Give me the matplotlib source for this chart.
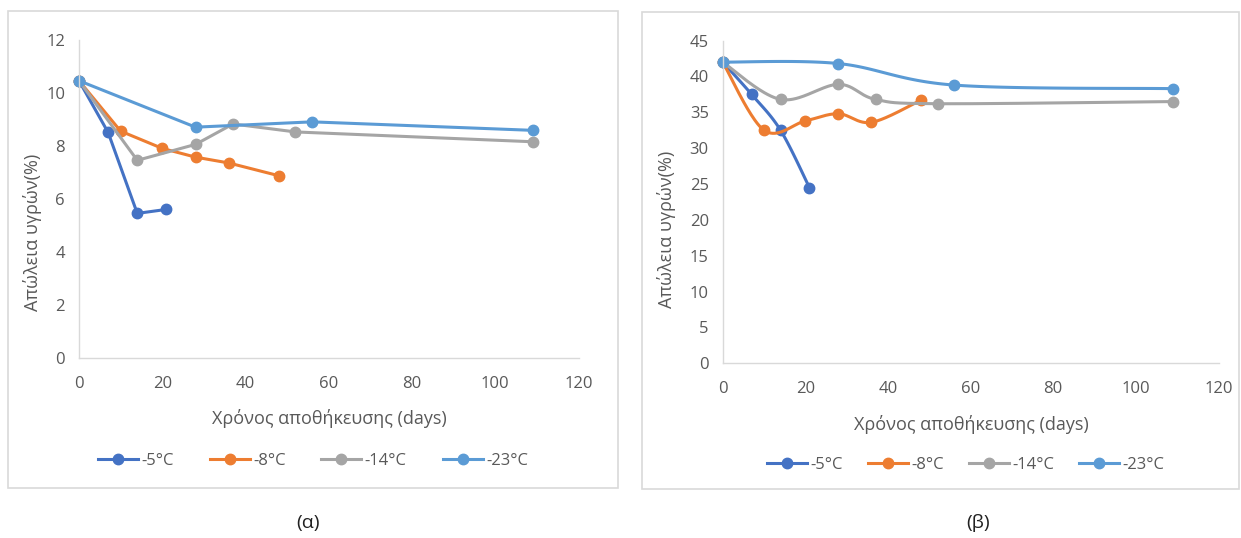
import numpy as np
import matplotlib
matplotlib.use("Agg")
import matplotlib.pyplot as plt
from matplotlib.patches import Rectangle
from matplotlib.lines import Line2D

plt.rcParams['font.family'] = ['Open Sans', 'DejaVu Sans']

# ---- data -------------------------------------------------------------
labels = ['-5°C', '-8°C', '-14°C', '-23°C']
colors = ['#4472C4', '#ED7D31', '#A5A5A5', '#5B9BD5']

# (α) liquid loss, straight lines
a_days_m5 = [0, 7, 14, 21]
a_val_m5 = [10.45, 8.5, 5.45, 5.6]
a_days_m8 = [0, 10, 20, 28, 36, 48]
a_val_m8 = [10.45, 8.55, 7.9, 7.57, 7.35, 6.87]
a_days_m14 = [0, 14, 28, 37, 52, 109]
a_val_m14 = [10.45, 7.45, 8.05, 8.82, 8.52, 8.15]
a_days_m23 = [0, 28, 56, 109]
a_val_m23 = [10.45, 8.7, 8.9, 8.58]

# (β) liquid loss, smoothed lines
b_days_m5 = [0, 7, 14, 21]
b_val_m5 = [42.0, 37.5, 32.5, 24.5]
b_days_m8 = [0, 10, 20, 28, 36, 48]
b_val_m8 = [42.0, 32.5, 33.8, 34.8, 33.6, 36.7]
b_days_m14 = [0, 14, 28, 37, 52, 109]
b_val_m14 = [42.0, 36.8, 38.9, 36.8, 36.2, 36.5]
b_days_m23 = [0, 28, 56, 109]
b_val_m23 = [42.0, 41.8, 38.8, 38.3]

x_ticks = [0, 20, 40, 60, 80, 100, 120]
a_y_ticks = [0, 2, 4, 6, 8, 10, 12]
b_y_ticks = [0, 5, 10, 15, 20, 25, 30, 35, 40, 45]

xlabel = 'Χρόνος αποθήκευσης (days)'
ylabel = 'Απώλεια υγρών(%)'

TXT = '#595959'
AXC = '#D9D9D9'


def smooth(xs, ys, n=40):
    """Cardinal (Catmull-Rom) Bezier smoothing through the points."""
    p = np.column_stack([xs, ys]).astype(float)
    if len(p) < 3:
        return p[:, 0], p[:, 1]
    ext = np.vstack([p[0], p, p[-1]])
    out = []
    t = np.linspace(0, 1, n)[:, None]
    for i in range(1, len(ext) - 2):
        p0, p1, p2, p3 = ext[i - 1], ext[i], ext[i + 1], ext[i + 2]
        c1 = p1 + (p2 - p0) / 6.0
        c2 = p2 - (p3 - p1) / 6.0
        seg = ((1 - t) ** 3) * p1 + 3 * ((1 - t) ** 2) * t * c1 + 3 * (1 - t) * t ** 2 * c2 + t ** 3 * p2
        out.append(seg if i == 1 else seg[1:])
    out = np.vstack(out)
    return out[:, 0], out[:, 1]


def style_axes(ax, yticks):
    ax.set_xlim(0, 120)
    ax.set_ylim(yticks[0], yticks[-1])
    ax.set_xticks(x_ticks)
    ax.set_yticks(yticks)
    for s in ['top', 'right']:
        ax.spines[s].set_visible(False)
    for s in ['left', 'bottom']:
        ax.spines[s].set_color(AXC)
        ax.spines[s].set_linewidth(1.0)
    ax.tick_params(length=0, labelsize=12, labelcolor=TXT, pad=10)
    ax.tick_params(axis='x', pad=13)
    ax.patch.set_alpha(0)


fig = plt.figure(figsize=(12.41, 5.38), dpi=100)
W, H = 1241, 538

# chart frames
fig.patches.append(Rectangle((8 / W, 1 - 488 / H), 610 / W, 477 / H, transform=fig.transFigure,
                             fill=False, edgecolor=AXC, linewidth=1.2))
fig.patches.append(Rectangle((642 / W, 1 - 489 / H), 597 / W, 477 / H, transform=fig.transFigure,
                             fill=False, edgecolor=AXC, linewidth=1.2))

ax1 = fig.add_axes([79 / W, 1 - 358 / H, 499.5 / W, 318.4 / H])
ax2 = fig.add_axes([722.7 / W, 1 - 363.3 / H, 495.8 / W, 322.7 / H])

a_series = [(a_days_m5, a_val_m5), (a_days_m8, a_val_m8), (a_days_m14, a_val_m14), (a_days_m23, a_val_m23)]
b_series = [(b_days_m5, b_val_m5), (b_days_m8, b_val_m8), (b_days_m14, b_val_m14), (b_days_m23, b_val_m23)]

for (xs, ys), c in zip(a_series, colors):
    ax1.plot(xs, ys, color=c, lw=2.2, marker='o', ms=7.5, clip_on=False, solid_capstyle='round')

for (xs, ys), c in zip(b_series, colors):
    sx, sy = smooth(xs, ys)
    ax2.plot(sx, sy, color=c, lw=2.2, clip_on=False, solid_capstyle='round')
    ax2.plot(xs, ys, ls='none', color=c, marker='o', ms=7.5, clip_on=False)

style_axes(ax1, a_y_ticks)
style_axes(ax2, b_y_ticks)

# axis titles
fig.text(329 / W, 1 - 418 / H, xlabel, ha='center', va='center', fontsize=13, color=TXT)
fig.text(971 / W, 1 - 425 / H, xlabel, ha='center', va='center', fontsize=13, color=TXT)
fig.text(33 / W, 1 - 232 / H, ylabel, ha='center', va='center', rotation=90, fontsize=13, color=TXT)
fig.text(666 / W, 1 - 229 / H, ylabel, ha='center', va='center', rotation=90, fontsize=13, color=TXT)

# legends
handles = [Line2D([], [], color=c, lw=2.2, marker='o', ms=7.5) for c in colors]
for cx, cy, gap in [(313, 461, 2.15), (966, 465, 1.5)]:
    fig.legend(handles, labels, loc='center', bbox_to_anchor=(cx / W, 1 - cy / H), ncol=4,
               frameon=False, fontsize=12, labelcolor=TXT, handlelength=2.4,
               handletextpad=0.2, columnspacing=gap, borderpad=0)

# panel captions
fig.text(308 / W, 1 - 523 / H, '(α)', ha='center', va='center', fontsize=14, color='#222222')
fig.text(978 / W, 1 - 523 / H, '(β)', ha='center', va='center', fontsize=14, color='#222222')

fig.savefig('out.png', dpi=100, facecolor='white')
